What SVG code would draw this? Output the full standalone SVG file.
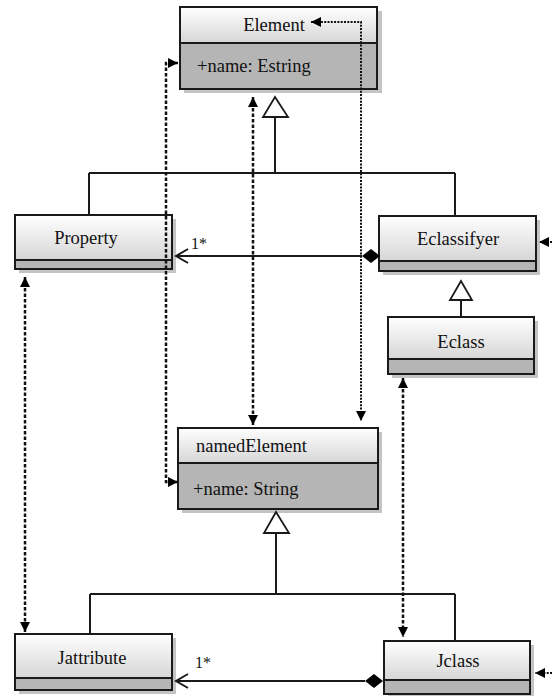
<svg xmlns="http://www.w3.org/2000/svg" width="552" height="696" viewBox="0 0 552 696">
  <defs>
    <linearGradient id="hdr" x1="0" y1="0" x2="0" y2="1">
      <stop offset="0" stop-color="#ffffff"/>
      <stop offset="1" stop-color="#d6d6d6"/>
    </linearGradient>
    <marker id="fill" viewBox="0 0 10 10" refX="10" refY="5" markerWidth="10" markerHeight="10" markerUnits="userSpaceOnUse" orient="auto-start-reverse">
      <path d="M0,0 L10,5 L0,10 z" fill="#000"/>
    </marker>
  </defs>
  <style>
    .shadow { fill: #c4c4c4; }
    .head { fill: url(#hdr); stroke: #1a1a1a; stroke-width: 2; }
    .attr { fill: #b5b5b5; stroke: #1a1a1a; stroke-width: 2; }
    text { font-family: 'Liberation Serif', 'Times New Roman', Times, serif; fill: #111; }
    .lbl { font-size: 18.5px; }
    .mult { font-size: 16px; }
    .solid { fill: none; stroke: #1a1a1a; stroke-width: 2; }
    .dash { fill: none; stroke: #111; stroke-width: 2.5; stroke-dasharray: 3.5 2; }
    .dot { fill: none; stroke: #111; stroke-width: 2; stroke-dasharray: 2 1.3; }
    .tri { fill: #fff; stroke: #1a1a1a; stroke-width: 1.8; }
    .dia { fill: #000; }
  </style>

  <!-- Element -->
  <g id="Element">
    <rect class="shadow" x="184" y="11" width="198" height="82"/>
    <rect class="attr" x="180" y="43" width="197" height="46"/>
    <rect class="head" x="180" y="7" width="197" height="36"/>
    <text class="lbl" x="274" y="31" text-anchor="middle">Element</text>
    <text class="lbl" x="197" y="72">+name: Estring</text>
  </g>

  <!-- Property -->
  <g id="Property">
    <rect class="shadow" x="19" y="219" width="157" height="54"/>
    <rect class="attr" x="15" y="260" width="157" height="9"/>
    <rect class="head" x="15" y="215" width="157" height="45"/>
    <text class="lbl" x="86" y="244" text-anchor="middle">Property</text>
  </g>

  <!-- Eclassifyer -->
  <g id="Eclassifyer">
    <rect class="shadow" x="383" y="220" width="157" height="55"/>
    <rect class="attr" x="379" y="261" width="157" height="10"/>
    <rect class="head" x="379" y="216" width="157" height="45"/>
    <text class="lbl" x="458" y="245" text-anchor="middle">Eclassifyer</text>
  </g>

  <!-- Eclass -->
  <g id="Eclass">
    <rect class="shadow" x="392" y="321" width="146" height="57"/>
    <rect class="attr" x="388" y="359" width="146" height="15"/>
    <rect class="head" x="388" y="317" width="146" height="42"/>
    <text class="lbl" x="461" y="348" text-anchor="middle">Eclass</text>
  </g>

  <!-- namedElement -->
  <g id="namedElement">
    <rect class="shadow" x="182" y="432" width="200" height="81"/>
    <rect class="attr" x="178" y="463" width="200" height="46"/>
    <rect class="head" x="178" y="428" width="200" height="35"/>
    <text class="lbl" x="196" y="452">namedElement</text>
    <text class="lbl" x="193" y="495">+name: String</text>
  </g>

  <!-- Jattribute -->
  <g id="Jattribute">
    <rect class="shadow" x="19" y="638" width="157" height="56"/>
    <rect class="attr" x="15" y="678" width="157" height="12"/>
    <rect class="head" x="15" y="634" width="157" height="44"/>
    <text class="lbl" x="92" y="664" text-anchor="middle">Jattribute</text>
  </g>

  <!-- Jclass -->
  <g id="Jclass">
    <rect class="shadow" x="388" y="645" width="146" height="53"/>
    <rect class="attr" x="384" y="680" width="146" height="14"/>
    <rect class="head" x="384" y="641" width="146" height="39"/>
    <text class="lbl" x="458" y="667" text-anchor="middle">Jclass</text>
  </g>

  <!-- connectors (drawn last so trace links run over the boxes) -->
  <g id="connectors">
    <!-- generalization: Property / Eclassifyer -> Element -->
    <path class="solid" d="M275,117 V173 M89,173 H455 M89,173 V215 M455,173 V216"/>
    <path class="tri" d="M275,97 L263,117 L288,117 z"/>
    <!-- generalization: Eclass -> Eclassifyer -->
    <path class="solid" d="M461,300 V317"/>
    <path class="tri" d="M461,281 L450,300 L472,300 z"/>
    <!-- generalization: Jattribute / Jclass -> namedElement -->
    <path class="solid" d="M276,533 V594 M90,594 H455 M90,594 V634 M455,594 V641"/>
    <path class="tri" d="M276,512 L264,533 L289,533 z"/>

    <!-- composition: Eclassifyer -> Property -->
    <path class="solid" d="M362,256 H176"/>
    <path class="solid" d="M188,249 L176,256 L188,263"/>
    <path class="dia" d="M362,256 L371,249 L380,256 L371,263 z"/>
    <text class="mult" x="191" y="249">1*</text>
    <!-- composition: Jclass -> Jattribute -->
    <path class="solid" d="M365,681 H176"/>
    <path class="solid" d="M188,674 L176,681 L188,688"/>
    <path class="dia" d="M365,681 L374,674 L383,681 L374,688 z"/>
    <text class="mult" x="195" y="668">1*</text>

    <!-- trace links -->
    <path class="dash" d="M178,63 H166 V482 H178" marker-start="url(#fill)" marker-end="url(#fill)"/>
    <path class="dash" d="M253,97 V425" marker-start="url(#fill)" marker-end="url(#fill)"/>
    <path class="dot" d="M311,22 H361 V421" marker-start="url(#fill)" marker-end="url(#fill)"/>
    <path class="dash" d="M25,277 V632" marker-start="url(#fill)" marker-end="url(#fill)"/>
    <path class="dash" d="M403,378 V637" marker-start="url(#fill)" marker-end="url(#fill)"/>
    <path class="dot" d="M552,242 H539" marker-end="url(#fill)"/>
    <path class="dot" d="M552,673 H535" marker-end="url(#fill)"/>
  </g>
</svg>
